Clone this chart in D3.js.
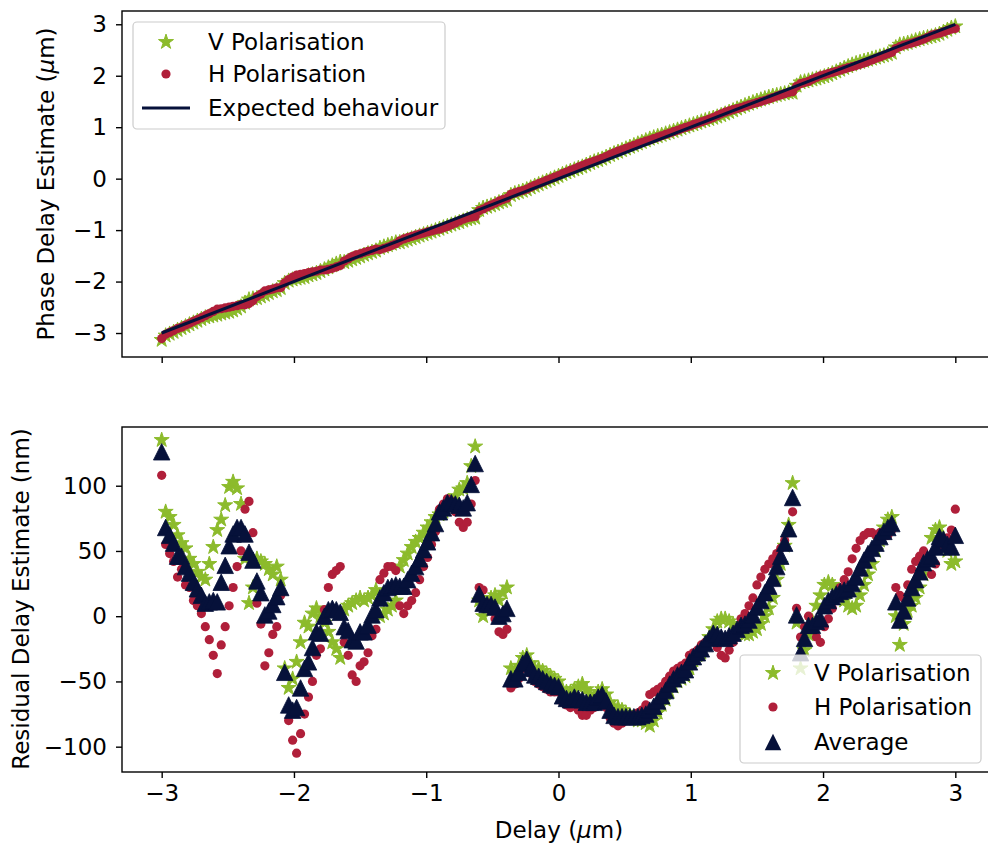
<!DOCTYPE html>
<html>
<head>
<meta charset="utf-8">
<script src="https://cdn.jsdelivr.net/npm/d3@7"></script>
<style>
  body { margin: 0; background: #fff; }
  text { font-family: "DejaVu Sans", sans-serif; }
</style>
</head>
<body>
<svg id="chart" width="988" height="848"></svg>
<script>

// delays run from -3 to 3 um in 0.03 um steps
var DELAY_START = -3, DELAY_STEP = 0.03;

// residuals in nm
var vRes = [135,80,76,70,62,56,52,44,40,34,30,28,40,53,66,74,85,99,103,98,
  86,44,10,22,44,42,40,36,32,38,28,-40,-55,-48,-35,-20,-5,-8,2,6,
  0,-5,-12,-20,-25,-32,5,8,10,12,14,12,14,16,20,0,2,5,8,12,
  38,43,48,53,57,60,64,68,72,76,78,80,84,86,92,97,98,102,115,130,
  12,0,8,14,16,12,18,22,-40,-44,-38,-32,-30,-36,-40,-40,-42,-44,-46,-48,
  -50,-56,-58,-58,-56,-54,-52,-56,-60,-62,-58,-56,-60,-66,-70,-70,-72,-74,-76,-78,
  -80,-80,-82,-84,-80,-74,-68,-64,-58,-54,-50,-48,-46,-40,-34,-30,-28,-22,-16,-10,
  -4,-2,-2,-4,-6,-10,-12,-14,-14,-12,-10,-6,0,6,14,28,40,54,70,102,
  -5,-40,-26,-14,-4,8,16,24,26,24,20,16,12,8,6,8,16,24,32,40,
  50,58,68,74,76,0,-22,-6,4,8,14,22,32,44,60,66,68,60,50,40,
  42];

var hRes = [108,55,48,42,30,36,24,22,12,8,2,-8,-18,-30,-44,-22,-8,8,22,38,
  50,82,88,64,10,-6,-38,-28,-14,-8,16,-45,-80,-95,-105,-90,-75,-62,-50,-30,
  -25,5,22,32,35,38,-20,-30,-45,-50,-38,-35,-28,-15,-10,28,33,38,38,35,
  8,2,8,12,18,28,38,45,55,65,82,86,90,88,80,72,68,72,86,104,
  22,20,10,4,-2,-12,-14,-10,-55,-52,-48,-40,-36,-44,-50,-52,-54,-56,-58,-58,
  -58,-66,-68,-70,-68,-72,-76,-76,-72,-70,-66,-64,-70,-78,-82,-84,-82,-80,-78,-76,
  -74,-72,-68,-60,-58,-56,-54,-50,-46,-42,-40,-38,-36,-30,-28,-26,-22,-20,-18,-16,
  -24,-30,-32,-26,-20,-10,-2,2,8,14,24,30,36,40,44,48,52,58,64,80,
  6,-16,-8,0,-10,-16,-20,-8,-2,6,14,22,28,34,44,52,58,62,64,64,
  62,64,62,62,66,22,16,14,24,36,42,46,50,44,32,40,54,58,60,66,
  82];

var avgRes = [126,68,62,56,46,46,38,33,26,21,16,10,11,12,11,26,39,54,63,68,
  68,63,49,43,27,18,1,4,9,15,22,-43,-68,-72,-70,-55,-40,-35,-24,-12,
  -13,0,5,6,5,3,-8,-11,-18,-19,-12,-12,-7,1,5,14,18,22,23,24,
  23,23,28,33,38,44,51,57,64,71,80,83,87,87,86,85,83,87,101,117,
  17,10,9,9,7,0,2,6,-48,-48,-43,-36,-33,-40,-45,-46,-48,-50,-52,-53,
  -54,-61,-63,-64,-62,-63,-64,-66,-66,-66,-62,-60,-65,-72,-76,-77,-77,-77,-77,-77,
  -77,-76,-75,-72,-69,-65,-61,-57,-52,-48,-45,-43,-41,-35,-31,-28,-25,-21,-17,-13,
  -14,-16,-17,-15,-13,-10,-7,-6,-3,1,7,12,18,23,29,38,46,56,67,91,
  1,-28,-17,-7,-7,-4,-2,8,12,15,17,19,20,21,25,30,37,43,48,52,
  56,61,65,68,71,11,-3,4,14,22,28,34,41,44,46,53,61,59,55,53,
  62];

var delays = vRes.map(function(d, i) { return +(DELAY_START + DELAY_STEP * i).toFixed(2); });

var expected = [-3, 3];
var xTicks = [-3, -2, -1, 0, 1, 2, 3];
var phaseTicks = [-3, -2, -1, 0, 1, 2, 3];
var resTicks = [-100, -50, 0, 50, 100];

var GREEN = "#8cbb2c", RED = "#b01f3a", NAVY = "#06113a";
var FS = 23;
var fmt = d3.format("d");

var svg = d3.select("#chart");

var x = d3.scaleLinear().domain([-3.3, 3.3]).range([122, 995]);
var yTop = d3.scaleLinear().domain([-3.466, 3.258]).range([357, 11]);
var yBot = d3.scaleLinear().domain([-119.4, 145]).range([772, 427]);

// phase estimate = delay - residual
var phase = function(d, r) { return d - r / 1000; };

var star = d3.symbol().type(d3.symbolStar).size(70);
var tri = d3.symbol().type({
  draw: function(ctx, size) {
    var h = Math.sqrt(size) / 2;
    ctx.moveTo(0, -h); ctx.lineTo(h, h); ctx.lineTo(-h, h); ctx.closePath();
  }
}).size(16.5 * 16.5);

var styleAxis = function(g) {
  g.select(".domain").remove();
  g.selectAll(".tick line").attr("stroke", "#000").attr("stroke-width", 1.4);
  g.selectAll(".tick text").attr("fill", "#000")
    .attr("font-size", FS).attr("font-family", "DejaVu Sans");
};

var frame = function(y) {
  svg.append("rect")
    .attr("x", x.range()[0]).attr("y", y.range()[1])
    .attr("width", x.range()[1] - x.range()[0])
    .attr("height", y.range()[0] - y.range()[1])
    .attr("fill", "none").attr("stroke", "#000").attr("stroke-width", 1.4);
};

// ---- top panel
var topPanel = svg.append("g");

topPanel.selectAll("path.v").data(delays).enter().append("path")
  .attr("class", "v")
  .attr("d", star)
  .attr("transform", function(d, i) {
    return "translate(" + x(d) + "," + yTop(phase(d, vRes[i])) + ")";
  })
  .attr("fill", GREEN).attr("stroke", GREEN).attr("stroke-width", 1);

topPanel.selectAll("circle.h").data(delays).enter().append("circle")
  .attr("class", "h")
  .attr("cx", function(d) { return x(d); })
  .attr("cy", function(d, i) { return yTop(phase(d, hRes[i])); })
  .attr("r", 4.6)
  .attr("fill", RED);

topPanel.append("line")
  .attr("x1", x(expected[0])).attr("y1", yTop(expected[0]))
  .attr("x2", x(expected[1])).attr("y2", yTop(expected[1]))
  .attr("stroke", NAVY).attr("stroke-width", 3);

svg.append("g").attr("transform", "translate(0,357)")
  .call(d3.axisBottom(x).tickValues(xTicks).tickSize(6).tickFormat(""))
  .call(styleAxis);
svg.append("g").attr("transform", "translate(122,0)")
  .call(d3.axisLeft(yTop).tickValues(phaseTicks).tickFormat(fmt).tickSize(6).tickPadding(9))
  .call(styleAxis);
frame(yTop);

// ---- bottom panel
var botPanel = svg.append("g");

botPanel.selectAll("path.v").data(delays).enter().append("path")
  .attr("class", "v")
  .attr("d", star)
  .attr("transform", function(d, i) {
    return "translate(" + x(d) + "," + yBot(vRes[i]) + ")";
  })
  .attr("fill", GREEN).attr("stroke", GREEN).attr("stroke-width", 1);

botPanel.selectAll("circle.h").data(delays).enter().append("circle")
  .attr("class", "h")
  .attr("cx", function(d) { return x(d); })
  .attr("cy", function(d, i) { return yBot(hRes[i]); })
  .attr("r", 4.6)
  .attr("fill", RED);

botPanel.selectAll("path.a").data(delays).enter().append("path")
  .attr("class", "a")
  .attr("d", tri)
  .attr("transform", function(d, i) {
    return "translate(" + x(d) + "," + yBot(avgRes[i]) + ")";
  })
  .attr("fill", NAVY).attr("stroke", NAVY).attr("stroke-width", 0.8);

svg.append("g").attr("transform", "translate(0,772)")
  .call(d3.axisBottom(x).tickValues(xTicks).tickFormat(fmt).tickSize(6).tickPadding(7))
  .call(styleAxis);
svg.append("g").attr("transform", "translate(122,0)")
  .call(d3.axisLeft(yBot).tickValues(resTicks).tickFormat(fmt).tickSize(6).tickPadding(9))
  .call(styleAxis);
frame(yBot);

// ---- axis labels
var label = function(tx, ty, rot, parts) {
  var t = svg.append("text")
    .attr("transform", "translate(" + tx + "," + ty + ")rotate(" + rot + ")")
    .attr("text-anchor", "middle").attr("font-size", FS).attr("fill", "#000");
  parts.forEach(function(p) {
    t.append("tspan").text(p[0]).attr("font-style", p[1] ? "italic" : null);
  });
};
label(54, 184, -90, [["Phase Delay Estimate (", 0], ["\u03bc", 1], ["m)", 0]]);
label(29, 599, -90, [["Residual Delay Estimate (nm)", 0]]);
label(559, 838, 0, [["Delay (", 0], ["\u03bc", 1], ["m)", 0]]);

// ---- legends
var legend = function(box, rows) {
  var g = svg.append("g");
  g.append("rect")
    .attr("x", box[0]).attr("y", box[1]).attr("width", box[2]).attr("height", box[3])
    .attr("rx", 4).attr("fill", "#fff").attr("fill-opacity", 0.8)
    .attr("stroke", "#cccccc").attr("stroke-width", 1.2);
  rows.forEach(function(r) {
    var mx = box[4], my = r.y;
    if (r.kind == "star") {
      g.append("path").attr("d", star).attr("transform", "translate(" + mx + "," + my + ")")
        .attr("fill", GREEN).attr("stroke", GREEN).attr("stroke-width", 1);
    } else if (r.kind == "dot") {
      g.append("circle").attr("cx", mx).attr("cy", my).attr("r", 4.6).attr("fill", RED);
    } else if (r.kind == "tri") {
      g.append("path").attr("d", tri).attr("transform", "translate(" + mx + "," + my + ")")
        .attr("fill", NAVY);
    } else {
      g.append("line").attr("x1", mx - 24).attr("x2", mx + 24).attr("y1", my).attr("y2", my)
        .attr("stroke", NAVY).attr("stroke-width", 3);
    }
    g.append("text").attr("x", box[5]).attr("y", my + 8)
      .attr("font-size", FS).attr("fill", "#000").text(r.label);
  });
};

legend([133, 22, 312, 107, 166, 208], [
  { kind: "star", label: "V Polarisation", y: 42 },
  { kind: "dot", label: "H Polarisation", y: 74 },
  { kind: "line", label: "Expected behaviour", y: 108 }
]);

legend([740, 655, 241, 108, 773, 814], [
  { kind: "star", label: "V Polarisation", y: 673 },
  { kind: "dot", label: "H Polarisation", y: 707 },
  { kind: "tri", label: "Average", y: 742 }
]);

</script>
</body>
</html>
